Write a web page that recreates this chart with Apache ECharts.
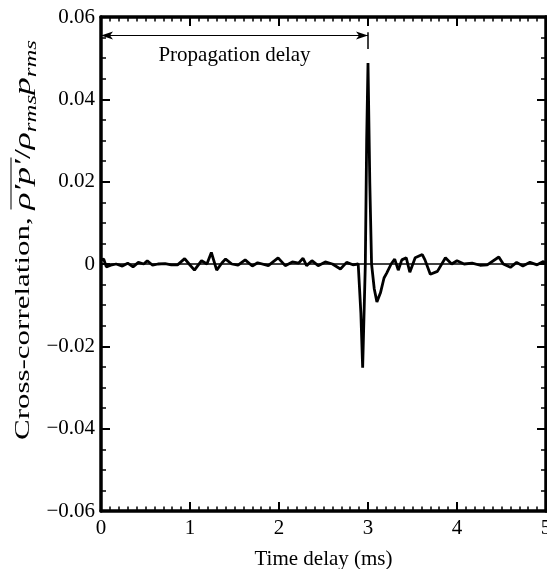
<!DOCTYPE html>
<html>
<head>
<meta charset="utf-8">
<script src="https://cdn.jsdelivr.net/npm/echarts@6/dist/echarts.min.js"></script>
<style>
html,body{margin:0;padding:0;background:#fff;}
#chart{width:547px;height:569px;}
</style>
</head>
<body>
<div id="chart"></div>
<script>
// ---- data ----
const timeMs = [0.00,0.03,0.06,0.11,0.17,0.24,0.30,0.36,0.42,0.48,0.52,0.58,0.64,0.72,0.79,0.86,0.94,0.99,
  1.05,1.13,1.19,1.24,1.30,1.36,1.40,1.47,1.54,1.62,1.70,1.76,1.88,1.99,2.07,2.15,2.22,2.27,2.31,2.37,2.44,
  2.52,2.60,2.69,2.76,2.83,2.89,2.92,2.94,2.97,2.985,3.00,3.02,3.04,3.07,3.10,3.14,3.18,3.21,3.26,3.30,3.34,
  3.38,3.43,3.47,3.53,3.61,3.64,3.70,3.78,3.87,3.94,4.00,4.08,4.17,4.26,4.34,4.47,4.52,4.60,4.67,4.74,4.82,
  4.90,4.97,5.00];
const corr = [0.0010,0.0012,-0.0007,-0.0003,0.0000,-0.0005,0.0002,-0.0007,0.0004,0.0000,0.0008,-0.0003,0.0000,0.0001,-0.0002,-0.0002,0.0013,0.0000,
  -0.0015,0.0008,0.0000,0.0028,-0.0015,0.0003,0.0012,0.0000,-0.0003,0.0010,-0.0005,0.0003,-0.0004,0.0015,-0.0004,0.0005,0.0002,0.0014,-0.0004,0.0008,-0.0004,
  0.0005,0.0000,-0.0012,0.0004,-0.0002,0.0000,-0.0120,-0.0252,0.0000,0.0300,0.0488,0.0200,0.0000,-0.0060,-0.0092,-0.0070,-0.0034,-0.0022,0.0000,0.0012,-0.0015,
  0.0010,0.0015,-0.0020,0.0015,0.0023,0.0010,-0.0025,-0.0018,0.0015,0.0000,0.0008,0.0000,0.0002,-0.0003,-0.0002,0.0017,0.0000,-0.0008,0.0004,-0.0005,0.0004,
  -0.0002,0.0006,0.0000];
const xRange = [0, 5];
const yRange = [-0.06, 0.06];
const delayStart = 0;      // ms
const delayEnd = 3;        // ms
const delayArrowY = 0.0555;
const delayTickY = [0.0563, 0.0522];
const delayText = 'Propagation delay';
const xTitle = 'Time delay (ms)';
const yTitlePieces = [
  {t: 'Cross-correlation, ', italic: false, size: 'txt'},
  {t: 'ρ\u2032p\u2032', italic: true, size: 'math', over: true},
  {t: '/', italic: false, size: 'math'},
  {t: 'ρ', italic: true, size: 'math'},
  {t: 'rms', italic: true, size: 'sub'},
  {t: 'p', italic: true, size: 'math'},
  {t: 'rms', italic: true, size: 'sub'}
];

const FONT = '"Liberation Serif","Times New Roman",serif';
const FS = 21;
const TSIZE = {txt: 20, math: 23, sub: 16};

const chart = echarts.init(document.getElementById('chart'), null, {renderer: 'canvas'});

function fmtY(v) {
  if (Math.abs(v) < 1e-9) return '0';
  const s = Math.abs(v).toFixed(2);
  return v < 0 ? '\u2212' + s : s;
}

const axisLine = {show: true, onZero: false, lineStyle: {color: '#000', width: 3.5}};
const xTickCommon = {
  type: 'value', min: xRange[0], max: xRange[1], interval: 1,
  axisLine: axisLine,
  axisTick: {inside: true, length: 9, lineStyle: {color: '#000', width: 2}},
  minorTick: {show: true, splitNumber: 10, length: 4.5, lineStyle: {color: '#000', width: 1.5}},
  splitLine: {show: false}, minorSplitLine: {show: false}
};
const yTickCommon = {
  type: 'value', min: yRange[0], max: yRange[1], interval: 0.02,
  axisLine: axisLine,
  axisTick: {inside: true, length: 9, lineStyle: {color: '#000', width: 2}},
  minorTick: {show: true, splitNumber: 4, length: 5, lineStyle: {color: '#000', width: 1.5}},
  splitLine: {show: false}, minorSplitLine: {show: false}
};

// y-axis title built from pieces (measured for placement)
const cv = document.createElement('canvas').getContext('2d');
function fontOf(p) { return (p.italic ? 'italic ' : '') + TSIZE[p.size] + 'px ' + FONT; }
let cursor = 0;
const placed = yTitlePieces.map(p => {
  cv.font = fontOf(p);
  const w = cv.measureText(p.t).width;
  const o = {p: p, x: cursor, w: w};
  cursor += w;
  return o;
});
const wTot = cursor;
const titleChildren = [];
placed.forEach(o => {
  titleChildren.push({
    type: 'text',
    x: o.x - wTot / 2,
    y: o.p.size === 'sub' ? 8 : 0,
    style: {
      text: o.p.t, fill: '#000',
      fontFamily: FONT, fontSize: TSIZE[o.p.size],
      fontStyle: o.p.italic ? 'italic' : 'normal',
      align: 'left', verticalAlign: 'middle'
    }
  });
  if (o.p.over) {
    titleChildren.push({
      type: 'line',
      shape: {x1: o.x - wTot / 2, y1: -13, x2: o.x - wTot / 2 + o.w + 1, y2: -13},
      style: {stroke: '#000', lineWidth: 1}
    });
  }
});

chart.setOption({
  animation: false,
  backgroundColor: '#fff',
  grid: {left: 101, right: 1, top: 17, bottom: 58, containLabel: false, outerBoundsMode: 'none'},
  xAxis: [
    Object.assign({}, xTickCommon, {
      position: 'bottom',
      name: xTitle, nameLocation: 'middle', nameGap: 38,
      nameTextStyle: {fontFamily: FONT, fontSize: FS, color: '#000'},
      axisLabel: {fontFamily: FONT, fontSize: FS, color: '#000', margin: 7, showMaxLabel: true}
    }),
    Object.assign({}, xTickCommon, {position: 'top', axisLabel: {show: false}})
  ],
  yAxis: [
    Object.assign({}, yTickCommon, {
      position: 'left',
      axisLabel: {fontFamily: FONT, fontSize: FS, color: '#000', margin: 6, formatter: fmtY}
    }),
    Object.assign({}, yTickCommon, {position: 'right', axisLabel: {show: false}})
  ],
  graphic: [{
    type: 'group',
    x: 24, y: 240,
    rotation: Math.PI / 2,
    scaleX: 400 / wTot,
    children: titleChildren
  }],
  series: [{
    type: 'line',
    data: timeMs.map((t, i) => [t, corr[i]]),
    showSymbol: false,
    lineStyle: {color: '#000', width: 2.8},
    z: 3,
    markLine: {
      silent: true,
      animation: false,
      data: [
        [{coord: [xRange[0], 0], symbol: 'none', lineStyle: {color: '#000', width: 1.5, type: 'solid'}, label: {show: false}},
         {coord: [xRange[1], 0], symbol: 'none'}],
        [{coord: [delayStart, delayArrowY], symbol: 'arrow', symbolSize: [6, 12],
          lineStyle: {color: '#000', width: 1, type: 'solid'},
          label: {show: true, position: 'insideMiddleBottom', formatter: delayText, distance: 9,
                  fontFamily: FONT, fontSize: FS, color: '#000'}},
         {coord: [delayEnd, delayArrowY], symbol: 'arrow', symbolSize: [6, 12]}],
        [{coord: [delayEnd, delayTickY[0]], symbol: 'none', lineStyle: {color: '#000', width: 1.5, type: 'solid'}, label: {show: false}},
         {coord: [delayEnd, delayTickY[1]], symbol: 'none'}]
      ]
    }
  }]
});
</script>
</body>
</html>
